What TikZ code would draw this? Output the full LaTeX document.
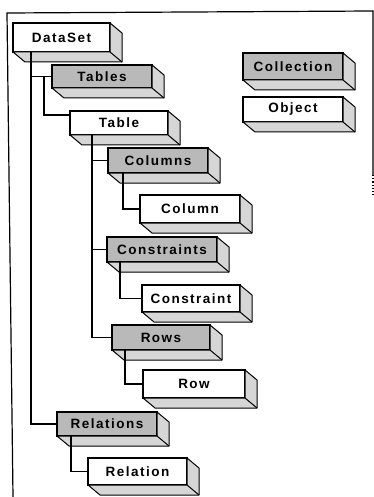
\documentclass[tikz,border=0pt]{standalone}
\usepackage{fontspec}
\setmainfont{Liberation Sans}
\newfontfamily\boxfont{Liberation Sans}[LetterSpace=11]
\usetikzlibrary{calc}

\tikzset{
  face/.style={draw=black, line width=1.2pt, anchor=north west, inner sep=0pt,
    outer sep=0pt, minimum height=25pt,
    font=\boxfont\bfseries\fontsize{13.5}{13.5}\selectfont},
  whiteface/.style={face, fill=white},
  greyface/.style={face, fill=gray!55},
  depth/.style={draw=black, line width=1pt, fill=gray!32, line join=round},
  link/.style={draw=black, line width=1.2pt},
  frame/.style={draw=black, line width=1.2pt},
}

% lower-right extrusion of a box
\newcommand\extrude[1]{%
  \filldraw[depth] (#1.north east) -- ++(12,10) -- ($(#1.south east)+(12,10)$)
    -- ($(#1.south west)+(12,10)$) -- (#1.south west) -- (#1.south east) -- cycle;
  \draw[depth] (#1.south east) -- ++(12,10);
}

\begin{document}
\begin{tikzpicture}[x=1pt, y=-1pt]
\useasboundingbox (0,0) rectangle (374,497);

% outer frame
\draw[frame] (13,497) -- (7,13) -- (373,11) -- (373,175);
\draw[frame, dotted] (373,175) -- (373,195);

% boxes
\node[whiteface, minimum width=97pt, minimum height=29pt] (dataset) at (13,23) {DataSet};
\node[greyface, minimum width=100pt, minimum height=23pt] (tables) at (52,65) {Tables};
\node[whiteface, minimum width=98pt, minimum height=24pt] (table) at (70,111) {Table};
\node[greyface, minimum width=100pt] (columns) at (108,148) {Columns};
\node[whiteface, minimum width=100pt, minimum height=28pt] (column) at (140,195) {Column};
\node[greyface, minimum width=110pt] (constraints) at (107,237) {Constraints};
\node[whiteface, minimum width=98pt, minimum height=27pt] (constraint) at (142,285) {Constraint};
\node[greyface, minimum width=98pt] (rows) at (112,325) {Rows};
\node[whiteface, minimum width=102pt, minimum height=28pt] (row) at (143,370) {Row};
\node[greyface, minimum width=100pt, minimum height=24pt] (relations) at (57,412) {Relations};
\node[whiteface, minimum width=99pt, minimum height=27pt] (relation) at (88,458) {Relation};
\node[greyface, minimum width=100pt, minimum height=27pt] (collection) at (243,53) {Collection};
\node[whiteface, minimum width=100pt] (object) at (243,97) {Object};

\foreach \b in {dataset,tables,table,columns,column,constraints,constraint,
                rows,row,relations,relation,collection,object}
  {\extrude{\b}}

% connectors
\draw[link] ([xshift=18pt]dataset.south west) |- (tables.west);
\draw[link] ([xshift=18pt]dataset.south west) |- (relations.west);
\draw[link] ([xshift=-8pt]tables.west) |- ([yshift=8pt]table.west);
\draw[link] ([xshift=22pt]table.south west) |- (columns.west);
\draw[link] ([xshift=22pt]table.south west) |- (constraints.west);
\draw[link] ([xshift=22pt]table.south west) |- (rows.west);
\draw[link] ([xshift=15pt]columns.south west) |- (column.west);
\draw[link] ([xshift=13pt]constraints.south west) |- (constraint.west);
\draw[link] ([xshift=13pt]rows.south west) |- (row.west);
\draw[link] ([xshift=14pt]relations.south west) |- (relation.west);
\end{tikzpicture}
\end{document}
